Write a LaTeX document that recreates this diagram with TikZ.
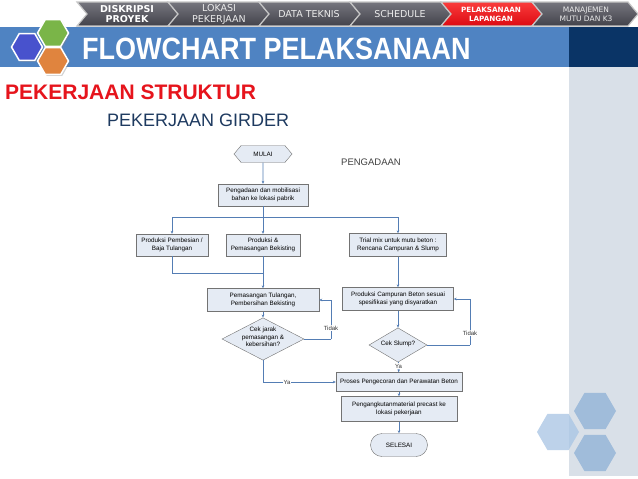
\documentclass[tikz,border=0pt]{standalone}
\usepackage{fontspec}
\setmainfont{Liberation Sans}
\newfontfamily\tabfont{DejaVu Sans}
\usetikzlibrary{arrows.meta,positioning,shapes.geometric,shapes.misc,shapes.symbols,calc,shadows}
\definecolor{bandblue}{RGB}{79,131,194}
\definecolor{navy}{RGB}{10,52,102}
\definecolor{sidegray}{RGB}{217,224,232}
\definecolor{linkblue}{RGB}{84,125,180}
\definecolor{boxfill}{RGB}{229,235,244}
\definecolor{boxline}{RGB}{115,115,115}
\definecolor{tabtop}{RGB}{118,118,126}
\definecolor{tabbot}{RGB}{66,66,74}
\definecolor{redtop}{RGB}{250,60,60}
\definecolor{redbot}{RGB}{220,10,18}
\definecolor{hexblue}{RGB}{72,82,205}
\definecolor{hexgreen}{RGB}{122,181,72}
\definecolor{hexorange}{RGB}{224,132,62}
\definecolor{hexgrey}{RGB}{160,188,218}
\definecolor{hexpale}{RGB}{167,196,228}
\definecolor{strukred}{RGB}{230,20,28}
\definecolor{girder}{RGB}{30,58,96}
\tikzset{
  tab/.style={draw=gray!45,line width=1.2pt,top color=tabtop,bottom color=tabbot},
  redtab/.style={draw=gray!45,line width=1.2pt,top color=redtop,bottom color=redbot},
  tabtxt/.style={align=center,text=gray!15,font=\tabfont\fontsize{9.5}{11}\selectfont},
  tabbold/.style={align=center,text=white,font=\tabfont\bfseries\fontsize{9.5}{10.5}\selectfont},
  tabsmall/.style={align=center,text=white,font=\tabfont\fontsize{7.5}{9}\selectfont},
  hexa/.style={regular polygon,regular polygon sides=6,inner sep=0pt},
  box/.style={draw=boxline,fill=boxfill,align=center,font=\fontsize{6.3}{7.5}\selectfont,inner sep=1pt},
  decision/.style={diamond,draw=boxline,fill=boxfill,align=center,font=\fontsize{6.3}{7.5}\selectfont,inner sep=0pt},
  arr/.style={-{Stealth[length=3pt,width=2.6pt]},draw=linkblue,line width=0.6pt},
  lnk/.style={draw=linkblue,line width=0.6pt},
  lbl/.style={fill=white,font=\fontsize{6}{7}\selectfont,inner sep=1pt,text=black!80},
}
\begin{document}
\begin{tikzpicture}[x=1pt,y=-1pt]
\useasboundingbox[fill=white] (0,0) rectangle (638,479);
% header band and side bar
\fill[bandblue] (0,27) rectangle (569,67);
\fill[navy] (569,27) rectangle (638,67);
\fill[sidegray] (569,67) rectangle (638,476);
% tabs
\foreach \x/\w/\st in {77/91/tab,168/91/tab,259/91/tab,350/91/tab,441/91/redtab,532/96/tab}
  \draw[\st] (\x,2) -- ++(\w,0) -- ++(10,12) -- ++(-10,12) -- ++(-\w,0) -- ++(10,-12) -- cycle;
\node[tabbold] (t1) at (127,14) {DISKRIPSI\\PROYEK};
\node[tabtxt] (t2) at (219,14) {LOKASI\\PEKERJAAN};
\node[tabtxt] (t3) at (309,14) {DATA TEKNIS};
\node[tabtxt] (t4) at (400,14) {SCHEDULE};
\node[tabsmall,font=\tabfont\bfseries\fontsize{7.2}{9}\selectfont] (t5) at (491,14) {PELAKSANAAN\\LAPANGAN};
\node[tabsmall,text=gray!15] (t6) at (586,14) {MANAJEMEN\\MUTU DAN K3};
% hexagons
\node[hexa,minimum size=31pt,fill=hexblue,draw=white,line width=1.5pt,drop shadow={opacity=0.35,shadow xshift=1.5pt,shadow yshift=-1.5pt}] (hxa) at (27,47) {};
\node[hexa,minimum size=31pt,fill=hexgreen,draw=white,line width=1.5pt,drop shadow={opacity=0.35,shadow xshift=1.5pt,shadow yshift=-1.5pt}] (hxb) at (53,33) {};
\node[hexa,minimum size=31pt,fill=hexorange,draw=white,line width=1.5pt,drop shadow={opacity=0.35,shadow xshift=1.5pt,shadow yshift=-1.5pt}] (hxc) at (53,61) {};
\node[hexa,minimum size=42pt,fill=hexpale,opacity=0.75] (hxd) at (558,432) {};
\node[hexa,minimum size=42pt,fill=hexgrey] (hxe) at (595,411) {};
\node[hexa,minimum size=42pt,fill=hexgrey] (hxf) at (595,453) {};
% titles
\node[anchor=west,text=white,font=\bfseries\fontsize{27}{30}\selectfont,inner sep=0pt] (title) at (82,49) {\scalebox{1}[1.14]{FLOWCHART PELAKSANAAN}};
\node[anchor=west,text=strukred,font=\bfseries\fontsize{21}{24}\selectfont,inner sep=0pt] (struktur) at (5,92) {PEKERJAAN STRUKTUR};
\node[anchor=west,text=girder,font=\fontsize{18}{20}\selectfont,inner sep=0pt] (girder) at (107,120) {PEKERJAAN GIRDER};
\node[text=black!75,font=\fontsize{9.5}{11}\selectfont] (pengadaanlbl) at (371,162) {PENGADAAN};
% flowchart
\node[signal,signal to=west and east,signal pointer angle=100,draw=boxline,fill=boxfill,font=\fontsize{6.3}{7.5}\selectfont,minimum width=58pt,minimum height=17pt,inner sep=0pt] (mulai) at (263,154) {MULAI};
\node[box,minimum width=90pt,minimum height=22pt] (pengadaan) at (263,195) {Pengadaan dan mobilisasi\\bahan ke lokasi pabrik};
\node[box,minimum width=72pt,minimum height=22pt] (pembesian) at (172,245) {Produksi Pembesian /\\Baja Tulangan};
\node[box,minimum width=74pt,minimum height=22pt] (bekisting) at (263,245) {Produksi \&\\Pemasangan Bekisting};
\node[box,minimum width=97pt,minimum height=23pt] (trialmix) at (398,245) {Trial mix untuk mutu beton :\\Rencana Campuran \& Slump};
\node[box,minimum width=112pt,minimum height=23pt] (tulangan) at (263,300) {Pemasangan Tulangan,\\Pembersihan Bekisting};
\node[box,minimum width=111pt,minimum height=23pt] (campuran) at (398,299) {Produksi Campuran Beton sesuai\\spesifikasi yang disyaratkan};
\node[decision,minimum width=82pt,minimum height=36pt] (cekjarak) at (263,339) {\smash{\begin{tabular}[c]{@{}c@{}}Cek jarak\\pemasangan \&\\kebersihan?\end{tabular}}};
\node[decision,minimum width=58pt,minimum height=24pt] (cekslump) at (398,345) {\smash{Cek Slump?}};
\node[box,minimum width=126pt,minimum height=19pt] (proses) at (399,382) {Proses Pengecoran dan Perawatan Beton};
\node[box,minimum width=116pt,minimum height=25pt] (angkut) at (399,409) {Pengangkutanmaterial precast ke\\lokasi pekerjaan};
\node[rounded rectangle,draw=boxline,fill=boxfill,font=\fontsize{6.3}{7.5}\selectfont,minimum width=57pt,minimum height=23pt,inner sep=0pt] (selesai) at (399,445) {SELESAI};
\coordinate (split) at (263,217);
\coordinate (join) at (263,273);
\coordinate (loopa) at (331,339);
\coordinate (loopb) at (470,345);
% connectors
\draw[arr] (mulai) -- (pengadaan);
\draw[lnk] (pengadaan) -- (split);
\draw[arr] (split) -| (pembesian);
\draw[arr] (split) -- (bekisting);
\draw[arr] (split) -| (trialmix);
\draw[lnk] (pembesian) |- (join);
\draw[arr] (bekisting) -- (tulangan);
\draw[arr] (tulangan) -- (cekjarak);
\draw[lnk] (cekjarak.east) -- (loopa);
\draw[arr] (loopa) |- node[lbl,pos=0.14] {Tidak} (tulangan.east);
\draw[arr] (trialmix) -- (campuran);
\draw[arr] (campuran) -- (cekslump);
\draw[lnk] (cekslump.east) -- (loopb);
\draw[arr] (loopb) |- node[lbl,pos=0.13] {Tidak} (campuran.east);
\draw[arr] (cekslump) -- node[lbl,pos=0.4] {Ya} (proses);
\draw[arr] (cekjarak.south) |- node[lbl,pos=0.665] {Ya} (proses.west);
\draw[arr] (proses) -- (angkut);
\draw[arr] (angkut) -- (selesai);
\end{tikzpicture}
\end{document}
